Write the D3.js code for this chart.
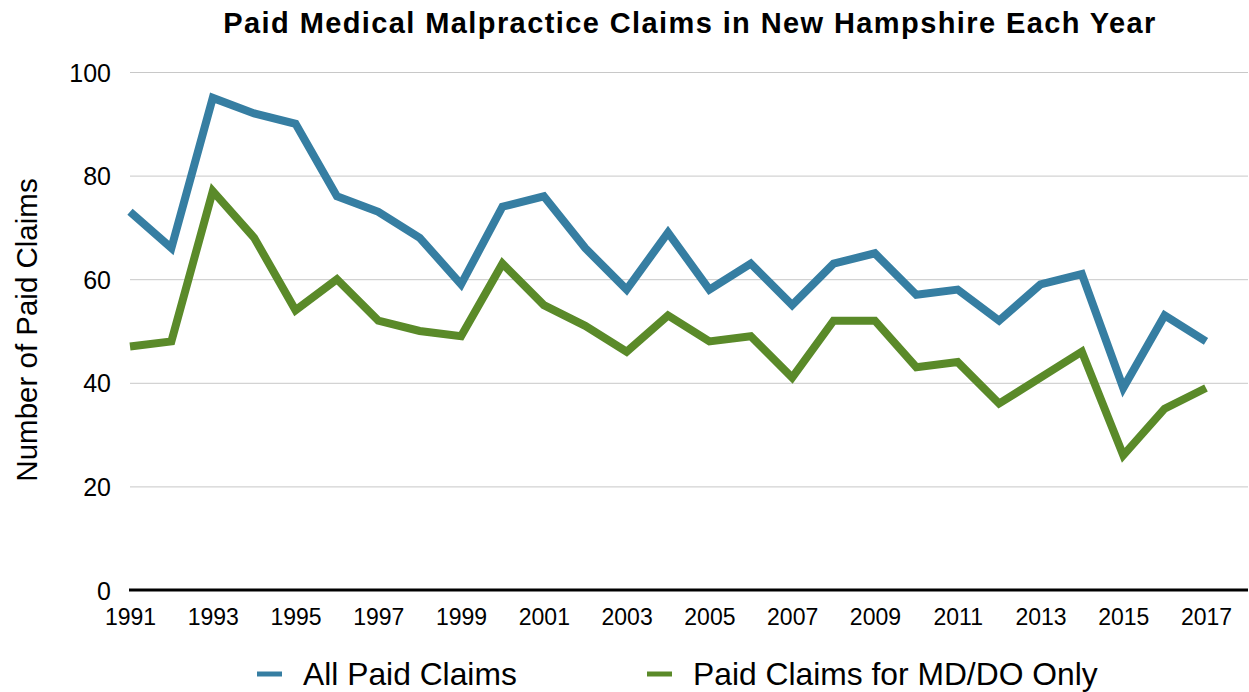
<!DOCTYPE html>
<html>
<head>
<meta charset="utf-8">
<script src="https://cdn.jsdelivr.net/npm/d3@7"></script>
<style>
  body { margin: 0; background: #fff; }
  svg { display: block; font-family: "Liberation Sans", Arial, Helvetica, sans-serif; }
</style>
</head>
<body>
<div id="chart"></div>
<script>
// data
var years = [1991,1992,1993,1994,1995,1996,1997,1998,1999,2000,2001,2002,2003,2004,2005,2006,2007,2008,2009,2010,2011,2012,2013,2014,2015,2016,2017]
var allClaims = [73,66,95,92,90,76,73,68,59,74,76,66,58,69,58,63,55,63,65,57,58,52,59,61,39,53,48]
var mdClaims = [47,48,77,68,54,60,52,50,49,63,55,51,46,53,48,49,41,52,52,43,44,36,41,46,26,35,39]
var yTicks = [0,20,40,60,80,100]
var xTicks = years.filter(function(y){ return (y - 1991) % 2 === 0 })
var seriesNames = ["All Paid Claims", "Paid Claims for MD/DO Only"]
var seriesColors = ["#367ea2", "#5a8a29"]

var width = 1249
var height = 692
var margin = {left: 130, right: 1, top: 72, bottom: 102}

var svg = d3.select("#chart")
  .append("svg")
  .attr("width", width)
  .attr("height", height)

var xScale = d3.scaleLinear().domain([1991, 2017]).range([margin.left, 1206])
var yScale = d3.scaleLinear().domain([0, 100]).range([height - margin.bottom, margin.top])

// title
svg.append("text")
  .attr("x", 690)
  .attr("y", 33)
  .attr("text-anchor", "middle")
  .style("font-size", "29px")
  .style("letter-spacing", "1.4px")
  .style("font-weight", "bold")
  .text("Paid Medical Malpractice Claims in New Hampshire Each Year")

// gridlines + y labels
var yAxis = d3.axisLeft(yScale)
  .tickValues(yTicks)
  .tickSize(-(width - margin.right - margin.left))
  .tickPadding(19)

svg.append("g")
  .attr("class", "axis axis--y")
  .attr("transform", "translate(" + margin.left + ",0)")
  .call(yAxis)
  .call(function(g){
    g.select(".domain").remove()
    g.selectAll(".tick line").attr("stroke", "#c8c8c8").attr("stroke-width", 1)
    g.selectAll(".tick text").style("font-size", "25px").attr("fill", "#000").attr("dy", "0.36em")
  })

// x axis
var xAxis = d3.axisBottom(xScale)
  .tickValues(xTicks)
  .tickFormat(d3.format("d"))
  .tickSize(0)
  .tickPadding(19)

svg.append("g")
  .attr("class", "axis axis--x")
  .attr("transform", "translate(0," + yScale(0) + ")")
  .call(xAxis)
  .call(function(g){
    g.select(".domain").remove()
    g.selectAll(".tick text").style("font-size", "23px").attr("fill", "#000")
  })

svg.append("line")
  .attr("x1", margin.left - 1)
  .attr("x2", width - margin.right)
  .attr("y1", yScale(0))
  .attr("y2", yScale(0))
  .attr("stroke", "#000")
  .attr("stroke-width", 3)

// y axis title
svg.append("text")
  .attr("transform", "translate(37," + 330 + ") rotate(-90)")
  .attr("text-anchor", "middle")
  .style("font-size", "29.5px")
  .text("Number of Paid Claims")

// lines
var line = d3.line()
  .x(function(d){ return xScale(d[0]) })
  .y(function(d){ return yScale(d[1]) })

;[allClaims, mdClaims].forEach(function(vals, i){
  svg.append("path")
    .datum(years.map(function(y, j){ return [y, vals[j]] }))
    .attr("fill", "none")
    .attr("stroke", seriesColors[i])
    .attr("stroke-width", 8)
    .attr("stroke-linejoin", "miter")
    .attr("d", line)
})

// legend
var legendX = [257, 647]
seriesNames.forEach(function(name, i){
  var g = svg.append("g").attr("transform", "translate(" + legendX[i] + ",674)")
  g.append("line")
    .attr("x1", 0).attr("x2", 25)
    .attr("stroke", seriesColors[i])
    .attr("stroke-width", 5)
  g.append("text")
    .attr("x", 46)
    .attr("y", 11)
    .style("font-size", "31.8px")
    .text(name)
})
</script>
</body>
</html>
